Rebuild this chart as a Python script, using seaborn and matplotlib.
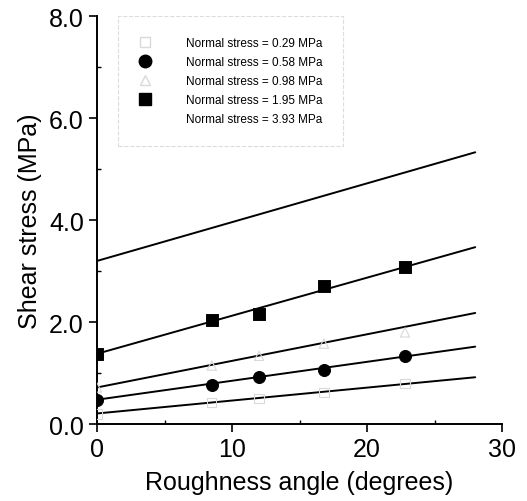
import matplotlib
matplotlib.use("Agg")
import matplotlib.pyplot as plt
import numpy as np
import pandas as pd
import seaborn as sns
from matplotlib.lines import Line2D
from matplotlib.ticker import MultipleLocator

# roughness angles of the tested specimens (degrees)
angles = [0, 8.5, 12, 16.8, 22.8]

# measured shear stress (MPa) per normal stress level
tau_029 = [0.20, 0.42, 0.50, 0.62, 0.80]
tau_058 = [0.48, 0.76, 0.92, 1.06, 1.34]
tau_098 = [0.72, 1.15, 1.34, 1.58, 1.80]
tau_195 = [1.38, 2.04, 2.16, 2.70, 3.09]

# fitted lines, read at angle 0 and 28 degrees
fit_x = [0, 28]
fit_029 = [0.21, 0.92]
fit_058 = [0.48, 1.52]
fit_098 = [0.72, 2.18]
fit_195 = [1.38, 3.47]
fit_393 = [3.20, 5.33]

labels = ["Normal stress = 0.29 MPa", "Normal stress = 0.58 MPa",
          "Normal stress = 0.98 MPa", "Normal stress = 1.95 MPa",
          "Normal stress = 3.93 MPa"]

sns.set_style("ticks")
plt.rcParams["font.family"] = ["Liberation Sans", "DejaVu Sans"]
for key in ["text.color", "axes.labelcolor", "xtick.color", "ytick.color"]:
    plt.rcParams[key] = "black"

fig = plt.figure(figsize=(5.27, 5.02), dpi=100)
ax = fig.add_axes([0.184, 0.153, 0.769, 0.813])

faint = "#d9d9d9"

for fy in [fit_029, fit_058, fit_098, fit_195, fit_393]:
    sns.lineplot(x=fit_x, y=fy, ax=ax, color="black", lw=1.4)

sns.scatterplot(x=angles, y=tau_029, ax=ax, marker="s", s=45,
                facecolor="none", edgecolor=faint, linewidth=0.8, zorder=3)
sns.scatterplot(x=angles, y=tau_098, ax=ax, marker="^", s=45,
                facecolor="none", edgecolor=faint, linewidth=0.8, zorder=3)
sns.scatterplot(x=angles, y=tau_058, ax=ax, marker="o", s=75,
                color="black", edgecolor="black", zorder=4)
sns.scatterplot(x=angles, y=tau_195, ax=ax, marker="s", s=70,
                color="black", edgecolor="black", zorder=4)

ax.set_xlim(0, 30)
ax.set_ylim(0, 8)
ax.xaxis.set_major_locator(MultipleLocator(10))
ax.xaxis.set_minor_locator(MultipleLocator(5))
ax.yaxis.set_major_locator(MultipleLocator(2))
ax.yaxis.set_minor_locator(MultipleLocator(1))
ax.set_yticklabels([f"{v:.1f}" for v in ax.get_yticks()])
ax.tick_params(which="major", direction="out", length=6, width=1.2,
               labelsize=18, colors="black")
ax.tick_params(which="minor", direction="in", length=3, width=1.0, colors="black")
for side in ["left", "bottom"]:
    ax.spines[side].set_linewidth(1.4)
    ax.spines[side].set_color("black")
sns.despine(ax=ax)

ax.set_xlabel("Roughness angle (degrees)", fontsize=18, labelpad=6)
ax.set_ylabel("Shear stress (MPa)", fontsize=18, labelpad=5)

handles = [
    Line2D([], [], ls="none", marker="s", ms=7, mfc="none", mec=faint),
    Line2D([], [], ls="none", marker="o", ms=9, mfc="black", mec="black"),
    Line2D([], [], ls="none", marker="^", ms=7, mfc="none", mec=faint),
    Line2D([], [], ls="none", marker="s", ms=9, mfc="black", mec="black"),
    Line2D([], [], ls="none", marker=None),
]
leg = ax.legend(handles, labels, loc="upper left", bbox_to_anchor=(0.052, 1.0),
                fontsize=8.5, frameon=True, fancybox=False, handletextpad=3.0,
                labelspacing=0.6, borderpad=1.75, borderaxespad=0,
                handlelength=1.0)
leg.get_frame().set_edgecolor("#d4d4d4")
leg.get_frame().set_linestyle("--")
leg.get_frame().set_linewidth(0.8)

fig.savefig("out.png", dpi=100)
